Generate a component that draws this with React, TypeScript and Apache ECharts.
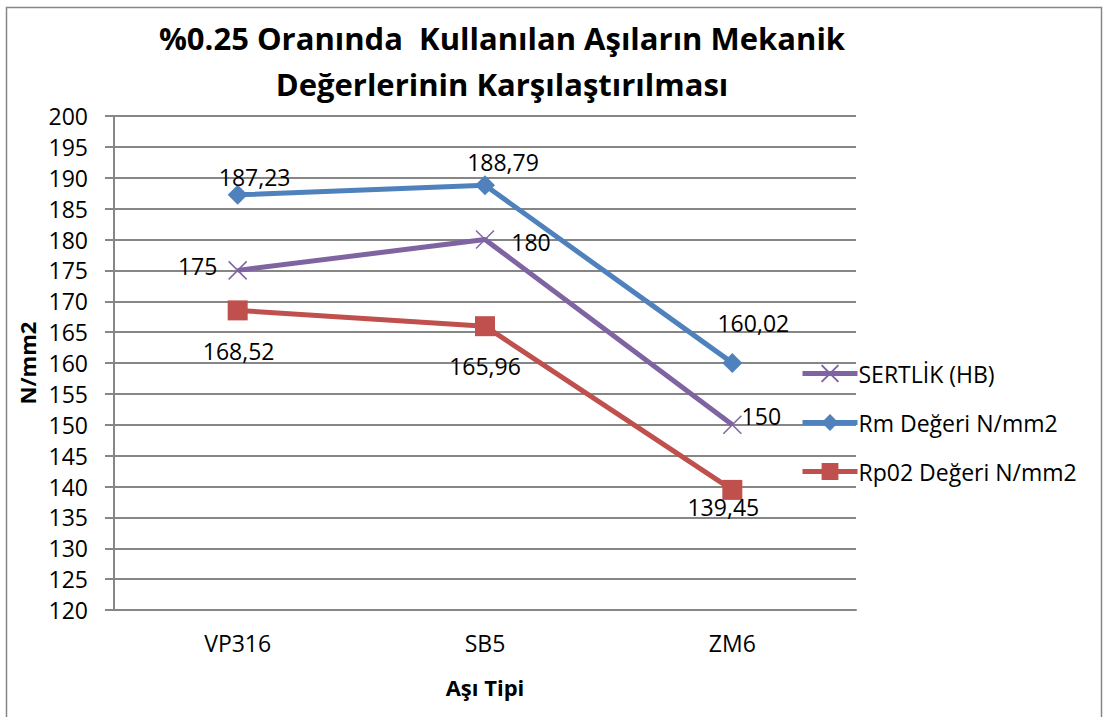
import React, { useEffect, useRef } from "react";
import * as echarts from "echarts";

const categories = ["VP316", "SB5", "ZM6"];
const sertlik = [175, 180, 150];
const rmValues = [187.23, 188.79, 160.02];
const rp02Values = [168.52, 165.96, 139.45];
const seriesNames = ["SERTLİK (HB)", "Rm Değeri N/mm2", "Rp02 Değeri N/mm2"];
const yMin = 120;
const yMax = 200;
const yInterval = 5;

const FONT = "'Open Sans', 'DejaVu Sans', sans-serif";

const sertOffsets = [[-40, -4], [46, 2], [29, -9]];
const rmOffsets = [[17, -18], [18, -23], [21, -40]];
const rpOffsets = [[1, 41], [0, 40], [-9, 17]];

const fmt = (v: number) => (Number.isInteger(v) ? String(v) : v.toFixed(2).replace(".", ","));

function withLabels(values: number[], offsets: number[][]) {
  return values.map((v, i) => ({
    value: v,
    label: {
      show: true,
      position: "inside",
      offset: offsets[i],
      formatter: fmt(v),
      color: "#000",
      fontSize: 23,
      fontFamily: FONT,
    },
  }));
}

export default function App() {
  const ref = useRef<HTMLDivElement>(null);
  useEffect(() => {
    if (!ref.current) return;
    const chart = echarts.init(ref.current, undefined, { renderer: "svg" });
    const gridColor = "#868686";
    chart.setOption({
      animation: false,
      backgroundColor: "#fff",
      title: {
        text: "%0.25 Oranında  Kullanılan Aşıların Mekanik\nDeğerlerinin Karşılaştırılması",
        left: 497,
        textAlign: "center",
        top: 10,
        textStyle: {
          fontFamily: FONT,
          fontWeight: "bold",
          fontSize: 31,
          lineHeight: 46,
          color: "#000",
        },
      },
      legend: {
        orient: "vertical",
        left: 795,
        top: 357,
        itemWidth: 55,
        itemHeight: 21,
        itemGap: 26,
        lineStyle: { width: 5 },
        textStyle: { fontFamily: FONT, fontSize: 23, color: "#000", padding: [0, 0, 0, -4] },
        data: seriesNames,
      },
      graphic: [
        {
          type: "rect",
          shape: { x: 6.5, y: 7.5, width: 1095, height: 730 },
          style: { fill: "none", stroke: gridColor, lineWidth: 1.5 },
          silent: true,
        },
      ],
      grid: { left: 114, right: 247, top: 116, bottom: 107 },
      xAxis: {
        type: "category",
        data: categories,
        boundaryGap: true,
        name: "Aşı Tipi",
        nameLocation: "middle",
        nameGap: 66,
        nameTextStyle: { fontFamily: FONT, fontWeight: "bold", fontSize: 22, color: "#000" },
        axisLine: { show: true, lineStyle: { color: gridColor, width: 2 } },
        axisTick: { show: false },
        axisLabel: { fontFamily: FONT, fontSize: 23, color: "#000", margin: 21 },
      },
      yAxis: {
        type: "value",
        min: yMin,
        max: yMax,
        interval: yInterval,
        name: "N/mm2",
        nameLocation: "middle",
        nameGap: 75,
        nameRotate: 90,
        nameTextStyle: { fontFamily: FONT, fontWeight: "bold", fontSize: 22, color: "#000" },
        axisLine: { show: true, lineStyle: { color: gridColor, width: 2 } },
        axisTick: { show: true, length: 9, lineStyle: { color: gridColor, width: 2 } },
        axisLabel: { fontFamily: FONT, fontSize: 23, color: "#000", margin: 26 },
        splitLine: { show: true, lineStyle: { color: gridColor, width: 2 } },
      },
      series: [
        {
          name: seriesNames[0],
          type: "line",
          data: withLabels(sertlik, sertOffsets),
          symbol: "path://M0,0L10,10M10,0L0,10",
          symbolSize: 18,
          lineStyle: { color: "#8064A2", width: 5 },
          itemStyle: { color: "#8064A2", borderColor: "#8064A2", borderWidth: 1.5 },
          z: 3,
        },
        {
          name: seriesNames[1],
          type: "line",
          data: withLabels(rmValues, rmOffsets),
          symbol: "diamond",
          symbolSize: 20,
          lineStyle: { color: "#4F81BD", width: 5 },
          itemStyle: { color: "#4F81BD" },
          z: 2,
        },
        {
          name: seriesNames[2],
          type: "line",
          data: withLabels(rp02Values, rpOffsets),
          symbol: "rect",
          symbolSize: 20,
          lineStyle: { color: "#C0504D", width: 5 },
          itemStyle: { color: "#C0504D" },
          z: 2,
        },
      ],
    });
    return () => chart.dispose();
  }, []);
  return (
    <div
      ref={ref}
      style={{ position: "fixed", left: 0, top: 0, width: 1103, height: 717 }}
    />
  );
}
